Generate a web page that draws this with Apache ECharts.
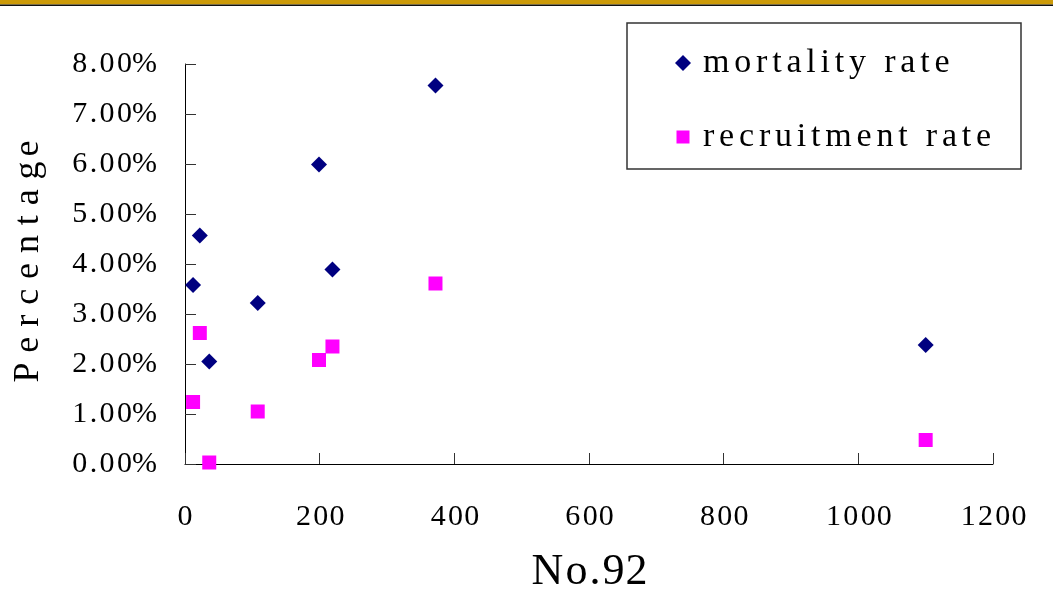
<!DOCTYPE html>
<html>
<head>
<meta charset="utf-8">
<script src="https://cdn.jsdelivr.net/npm/echarts@6/dist/echarts.min.js"></script>
<style>
  html, body { margin: 0; padding: 0; background: #fff; }
  #chart { width: 1053px; height: 606px; }
</style>
</head>
<body>
<div id="chart"></div>
<script>
// Stand size (No.92 scale) and annual rates, in percent
const xValues = [12, 22, 36, 108, 199, 219, 372, 1100];
const mortalityRate = [3.58, 4.57, 2.05, 3.22, 5.99, 3.89, 7.57, 2.38];
const recruitmentRate = [1.24, 2.62, 0.03, 1.05, 2.08, 2.35, 3.61, 0.48];
const seriesNames = ['mortality rate', 'recruitment rate'];
const xTickLabels = ['0', '200', '400', '600', '800', '1000', '1200'];
const yTickLabels = ['0.00%', '1.00%', '2.00%', '3.00%', '4.00%', '5.00%', '6.00%', '7.00%', '8.00%'];
const xAxisTitle = 'No.92';
const yAxisTitle = 'Percentage';

const FAMILY = 'Liberation Serif';
const measureCtx = document.createElement('canvas').getContext('2d');

// Wide, evenly tracked serif text: every character becomes a rich-text
// token whose box is its glyph width plus a fixed letter spacing.
function tracked(size, spacing) {
  const font = size + 'px "' + FAMILY + '"';
  const rich = {};
  function fmt(str) {
    measureCtx.font = font;
    const chars = str.split('');
    return chars.map((ch, i) => {
      const last = i === chars.length - 1;
      const key = (last ? 'e' : 'g') + ch.charCodeAt(0);
      if (!rich[key]) {
        const w = measureCtx.measureText(ch).width;
        rich[key] = {
          fontFamily: FAMILY, fontSize: size, color: '#000', lineHeight: size,
          width: w + (last ? 0 : spacing)
        };
      }
      return '{' + key + '|' + ch + '}';
    }).join('');
  }
  return { rich, fmt };
}

const yTickText = tracked(30, 2.4);
const xTickText = tracked(30, 2.3);
const legendText = tracked(34, 4.8);
const yNameText = tracked(36, 9.9);
const xNameText = tracked(44, 2);

// register every glyph style before the option is built
yTickLabels.forEach(yTickText.fmt);
xTickLabels.forEach(xTickText.fmt);
seriesNames.forEach(legendText.fmt);
const yNameRich = yNameText.fmt(yAxisTitle);
const xNameRich = xNameText.fmt(xAxisTitle);

const pairs = (xs, ys) => xs.map((x, i) => [x, ys[i]]);

const chart = echarts.init(document.getElementById('chart'), null, { renderer: 'canvas' });

chart.setOption({
  backgroundColor: '#ffffff',
  animation: false,
  grid: { left: 185, right: 60, top: 64, bottom: 142, containLabel: false, outerBoundsMode: 'none' },
  graphic: [
    { type: 'rect', shape: { x: 0, y: 0, width: 1053, height: 4.5 }, style: { fill: '#CC9A08' }, silent: true },
    { type: 'rect', shape: { x: 0, y: 4.5, width: 1053, height: 1.5 }, style: { fill: '#111' }, silent: true },
    { type: 'rect', shape: { x: 627, y: 23, width: 394, height: 146 },
      style: { fill: 'none', stroke: '#333', lineWidth: 1.5 }, silent: true }
  ],
  legend: [
    {
      data: [{ name: seriesNames[0], icon: 'diamond' }],
      left: 675, top: 46, padding: 0, itemWidth: 16, itemHeight: 16,
      formatter: name => legendText.fmt(name),
      textStyle: { fontFamily: FAMILY, fontSize: 34, color: '#000', lineHeight: 34,
        padding: [0, 0, 0, 7], rich: legendText.rich }
    },
    {
      data: [{ name: seriesNames[1], icon: 'rect' }],
      left: 676.5, top: 120, padding: 0, itemWidth: 13, itemHeight: 13,
      formatter: name => legendText.fmt(name),
      textStyle: { fontFamily: FAMILY, fontSize: 34, color: '#000', lineHeight: 34,
        padding: [0, 0, 0, 8.5], rich: legendText.rich }
    }
  ],
  xAxis: {
    type: 'value', min: 0, max: 1200, interval: 200,
    name: xNameRich, nameLocation: 'middle', nameGap: 86,
    nameTextStyle: { fontFamily: FAMILY, fontSize: 44, color: '#000', rich: xNameText.rich },
    axisLine: { show: true, onZero: false, lineStyle: { color: '#000', width: 1 } },
    axisTick: { show: true, inside: true, length: 11, lineStyle: { color: '#333' } },
    axisLabel: {
      margin: 38, fontFamily: FAMILY, fontSize: 30, color: '#000', rich: xTickText.rich,
      formatter: v => xTickText.fmt(xTickLabels[Math.round(v / 200)])
    },
    splitLine: { show: false }
  },
  yAxis: {
    type: 'value', min: 0, max: 8, interval: 1,
    name: yNameRich, nameLocation: 'middle', nameGap: 138, nameRotate: 90,
    nameTextStyle: { fontFamily: FAMILY, fontSize: 36, color: '#000', rich: yNameText.rich },
    axisLine: { show: true, lineStyle: { color: '#000', width: 1 } },
    axisTick: { show: true, inside: true, length: 11, lineStyle: { color: '#333' } },
    axisLabel: {
      margin: 28, fontFamily: FAMILY, fontSize: 30, color: '#000', rich: yTickText.rich,
      formatter: v => yTickText.fmt(yTickLabels[Math.round(v)])
    },
    splitLine: { show: false }
  },
  series: [
    {
      name: seriesNames[0], type: 'scatter', symbol: 'diamond', symbolSize: 16,
      itemStyle: { color: '#000080', opacity: 1 },
      data: pairs(xValues, mortalityRate)
    },
    {
      name: seriesNames[1], type: 'scatter', symbol: 'rect', symbolSize: 14,
      itemStyle: { color: '#FF00FF', opacity: 1 },
      data: pairs(xValues, recruitmentRate)
    }
  ]
});
</script>
</body>
</html>
